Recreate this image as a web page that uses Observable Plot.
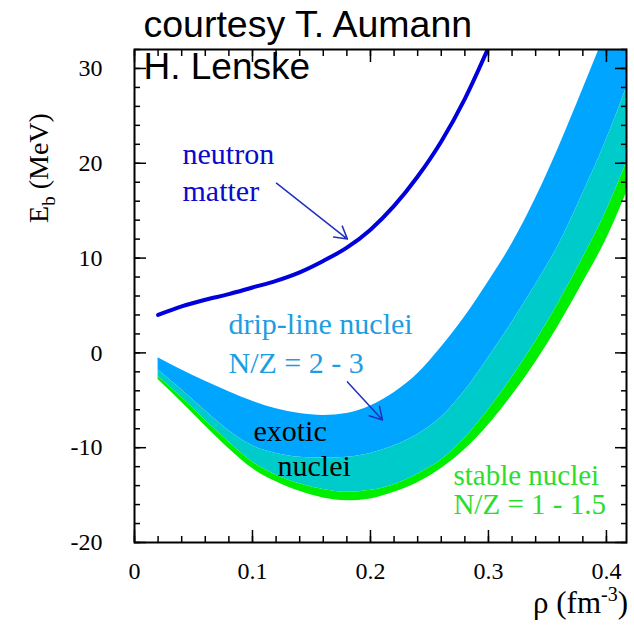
<!DOCTYPE html>
<html>
<head>
<meta charset="utf-8">
<script src="https://cdn.jsdelivr.net/npm/d3@7"></script>
<script src="https://cdn.jsdelivr.net/npm/@observablehq/plot@0.6"></script>
<style>
  html, body { margin: 0; padding: 0; background: white; }
</style>
</head>
<body>
<div id="chart"></div>
<script>
// density grid (fm^-3)
const rho = [0.02,0.04,0.06,0.08,0.10,0.12,0.14,0.16,0.18,0.20,0.22,0.24,0.26,0.28,0.30,0.32,0.34,0.36,0.38,0.40,0.42];
// drip-line nuclei band (N/Z = 2 - 3): upper and lower edge
const dripUpper = [-0.5,-1.8,-3.0,-4.1,-5.1,-5.9,-6.4,-6.6,-6.4,-5.6,-4.2,-2.2,0.6,3.8,7.5,11.5,16.3,21.8,27.8,34.0,40.5];
const dripLower = [-1.8,-3.9,-6.1,-8.2,-9.8,-10.6,-11.0,-11.1,-11.0,-10.6,-9.8,-8.6,-6.8,-4.0,-0.5,3.2,7.2,11.5,16.8,22.5,29.0];
// exotic nuclei band lower edge
const exoticLower = [-2.5,-4.7,-7.1,-9.4,-11.5,-12.9,-13.8,-14.4,-14.7,-14.5,-13.9,-12.8,-11.3,-9.0,-6.0,-2.6,1.2,5.4,10.0,15.0,21.0];
// stable nuclei band (N/Z = 1 - 1.5) lower edge
const stableLower = [-2.8,-5.2,-7.7,-10.1,-12.2,-13.6,-14.6,-15.3,-15.6,-15.4,-14.7,-13.7,-12.2,-10.2,-7.6,-4.5,-1.0,3.0,7.4,12.0,17.8];
// neutron matter
const rhoNeutron = [0.02,0.04,0.06,0.08,0.10,0.12,0.14,0.16,0.18,0.20,0.22,0.24,0.26,0.28,0.30];
const eNeutron = [4.0,4.9,5.6,6.2,6.9,7.6,8.5,9.7,11.1,13.0,15.5,18.6,22.3,26.8,32.2];

// ticks
const xTicks = [0, 0.1, 0.2, 0.3, 0.4];
const xTickLabels = ["0", "0.1", "0.2", "0.3", "0.4"];
const yTicks = [-20, -10, 0, 10, 20, 30];
const yTickLabels = ["-20", "-10", "0", "10", "20", "30"];
const xMinor = d3.range(0, 0.4001, 0.02);
const yMinor = d3.range(-20, 32.001, 2);

// annotations (data coordinates)
const labelNeutron = [{x: 0.0407, y: 16.0, text: "neutron\nmatter"}];
const labelDrip = [{x: 0.0797, y: -2.1, text: "drip-line nuclei\nN/Z = 2 - 3"}];
const labelExotic = [{x: 0.1008, y: -9.28, text: "exotic"}, {x: 0.1212, y: -12.97, text: "nuclei"}];
const labelStable = [{x: 0.2703, y: -17.0, text: "stable nuclei\nN/Z = 1 - 1.5"}];
const arrows = [
  {x1: 0.1203, y1: 17.9, x2: 0.1805, y2: 12.0},
  {x1: 0.1805, y1: -3.06, x2: 0.2102, y2: -7.07}
];

const band = rho.map((r, i) => ({
  rho: r, a: dripUpper[i], b: dripLower[i], c: exoticLower[i], d: stableLower[i]
}));
const neutron = rhoNeutron.map((r, i) => ({rho: r, e: eNeutron[i]}));

const serif = "Liberation Serif, Times New Roman, serif";
const sans = "Liberation Sans, Arial, sans-serif";

const svg = Plot.plot({
  width: 634,
  height: 630,
  marginLeft: 134,
  marginRight: 8,
  marginTop: 49,
  marginBottom: 88,
  style: {background: "white", fontFamily: serif, fontSize: "24px", overflow: "visible"},
  x: {domain: [0, 0.417], axis: null, label: null},
  y: {domain: [-20, 32], axis: null, label: null},
  marks: [
    Plot.areaY(band, {x: "rho", y1: "a", y2: "b", fill: "#00a5ff", curve: "monotone-x", clip: true}),
    Plot.areaY(band, {x: "rho", y1: "b", y2: "c", fill: "#00cbcb", curve: "monotone-x", clip: true}),
    Plot.areaY(band, {x: "rho", y1: "c", y2: "d", fill: "#00ee00", curve: "monotone-x", clip: true}),
    Plot.line(neutron, {x: "rho", y: "e", stroke: "#0000dd", strokeWidth: 4, curve: "monotone-x", clip: true}),
    Plot.arrow(arrows, {x1: "x1", y1: "y1", x2: "x2", y2: "y2", stroke: "#2030c0", strokeWidth: 1.5, headLength: 14, bend: 0}),
    Plot.text(labelNeutron, {x: "x", y: "y", text: "text", textAnchor: "start", lineAnchor: "bottom", lineHeight: 1.23, fill: "#0a0acc", fontSize: 30, fontFamily: serif}),
    Plot.text(labelDrip, {x: "x", y: "y", text: "text", textAnchor: "start", lineAnchor: "bottom", lineHeight: 1.3, fill: "#1e9de2", fontSize: 30, fontFamily: serif}),
    Plot.text(labelExotic, {x: "x", y: "y", text: "text", textAnchor: "start", lineAnchor: "bottom", fill: "black", fontSize: 30, fontFamily: serif}),
    Plot.text(labelStable, {x: "x", y: "y", text: "text", textAnchor: "start", lineAnchor: "bottom", lineHeight: 1.0, fill: "#2ddd2d", fontSize: 29, fontFamily: serif}),
    // tick labels
    Plot.axisX(xTicks, {anchor: "bottom", tickSize: 0, tickPadding: 19, tickFormat: (d, i) => xTickLabels[i], label: null, fontSize: 24, fontFamily: serif}),
    Plot.axisY(yTicks, {anchor: "left", tickSize: 0, tickPadding: 32, tickFormat: (d, i) => yTickLabels[i], label: null, fontSize: 24, fontFamily: serif}),
    // inward ticks on all four sides
    Plot.axisX(xMinor, {anchor: "bottom", tickSize: -6, tickFormat: () => "", label: null, strokeWidth: 1.5}),
    Plot.axisX(xTicks, {anchor: "bottom", tickSize: -12, tickFormat: () => "", label: null, strokeWidth: 1.5}),
    Plot.axisX(xMinor, {anchor: "top", tickSize: -6, tickFormat: () => "", label: null, strokeWidth: 1.5}),
    Plot.axisX(xTicks, {anchor: "top", tickSize: -12, tickFormat: () => "", label: null, strokeWidth: 1.5}),
    Plot.axisY(yMinor, {anchor: "left", tickSize: -6, tickFormat: () => "", label: null, strokeWidth: 1.5}),
    Plot.axisY(yTicks, {anchor: "left", tickSize: -12, tickFormat: () => "", label: null, strokeWidth: 1.5}),
    Plot.axisY(yMinor, {anchor: "right", tickSize: -6, tickFormat: () => "", label: null, strokeWidth: 1.5}),
    Plot.axisY(yTicks, {anchor: "right", tickSize: -12, tickFormat: () => "", label: null, strokeWidth: 1.5}),
    Plot.frame({stroke: "black", strokeWidth: 2}),
    // credits
    Plot.text(["courtesy T. Aumann"], {text: d => d, frameAnchor: "top-left", dx: 9, dy: -13, textAnchor: "start", lineAnchor: "bottom", fontFamily: sans, fontSize: 37.5, fill: "black"}),
    Plot.text(["H. Lenske"], {text: d => d, frameAnchor: "top-left", dx: 9, dy: 29, textAnchor: "start", lineAnchor: "bottom", fontFamily: sans, fontSize: 37, fill: "black"})
  ]
});

// axis titles with sub/superscripts
const sel = d3.select(svg);
const ylab = sel.append("text")
  .attr("transform", "translate(48,168) rotate(-90)")
  .attr("font-family", serif).attr("font-size", 28).attr("fill", "black");
ylab.append("tspan").text("E");
ylab.append("tspan").attr("dy", 7).attr("font-size", 19).text("b");
ylab.append("tspan").attr("dy", -7).text(" (MeV)");

const xlab = sel.append("text")
  .attr("x", 628).attr("y", 613).attr("text-anchor", "end")
  .attr("font-family", serif).attr("font-size", 31).attr("fill", "black");
xlab.append("tspan").text("\u03c1 (fm");
xlab.append("tspan").attr("dy", -12).attr("font-size", 20).text("-3");
xlab.append("tspan").attr("dy", 12).text(")");

document.getElementById("chart").appendChild(svg);
</script>
</body>
</html>
